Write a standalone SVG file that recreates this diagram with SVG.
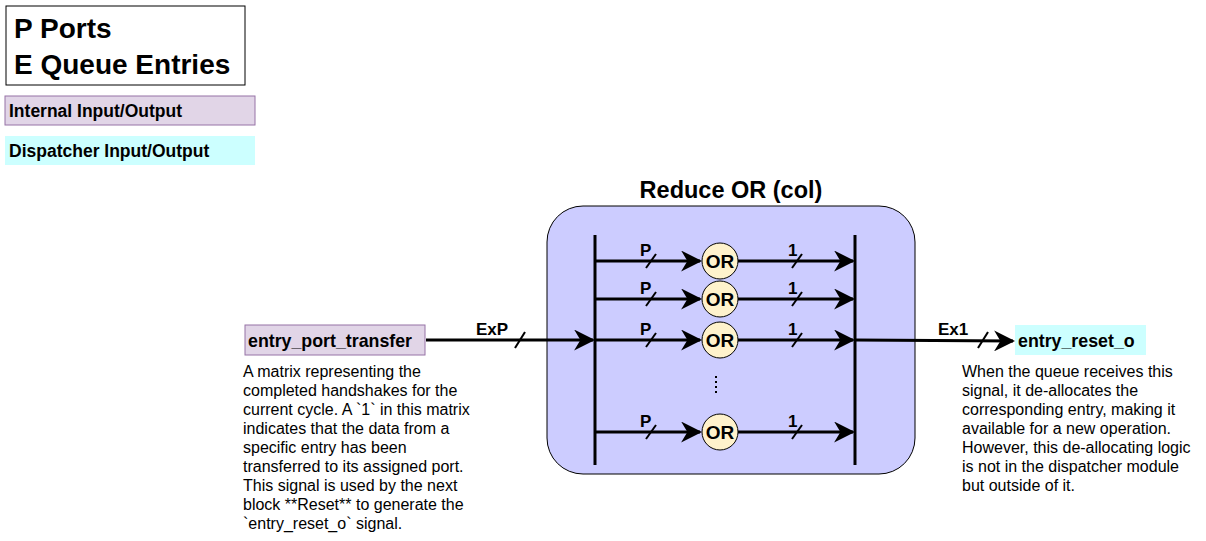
<svg xmlns="http://www.w3.org/2000/svg" width="1206" height="541" viewBox="0 0 1206 541">
<style>
text{font-family:"Liberation Sans",Arial,sans-serif;fill:#000}
.b{font-weight:bold}
.w{stroke:#000;stroke-width:3;fill:none}
.t{stroke:#000;stroke-width:2}
.d{font-size:16px}
</style>
<defs>
<marker id="m" viewBox="0 0 10 10" refX="9" refY="5" markerWidth="7" markerHeight="7" orient="auto" markerUnits="strokeWidth"><path d="M0,0 L10,5 L0,10 L3,5 Z" fill="#000"/></marker></defs>
<g id="legend">
<rect x="6" y="6" width="239" height="79" fill="#fff" stroke="#000"/>
<text x="14" y="38" font-size="28" class="b">P Ports</text>
<text x="14" y="74" font-size="28" class="b">E Queue Entries</text>
<rect x="5" y="96" width="250" height="29" fill="#e1d5e7" stroke="#9673a6"/>
<text x="9" y="117" font-size="17.5" class="b">Internal Input/Output</text>
<rect x="5" y="136" width="250" height="29" fill="#ccffff"/>
<text x="9" y="157" font-size="17.5" class="b">Dispatcher Input/Output</text>
</g>
<g id="reduce">
<rect x="547" y="206" width="368" height="268" rx="36" fill="#ccccff" stroke="#000"/>
<text x="731" y="198" font-size="23.5" class="b" text-anchor="middle">Reduce OR (col)</text>
<line x1="595" y1="235" x2="595" y2="465" class="w"/>
<line x1="855" y1="235" x2="855" y2="465" class="w"/>
<line x1="716" y1="376" x2="716" y2="396" stroke="#000" stroke-width="2" stroke-dasharray="2 3"/>
</g>
<g id="connectors">
<g id="rows">
<g transform="translate(0,261)"><line x1="595" y1="0" x2="700" y2="0" class="w" marker-end="url(#m)"/><line x1="738" y1="0" x2="853" y2="0" class="w" marker-end="url(#m)"/><line x1="646" y1="7" x2="656" y2="-7" class="t"/><line x1="792" y1="7" x2="802" y2="-7" class="t"/><text x="640" y="-5" font-size="17" class="b">P</text><text x="788" y="-5" font-size="17" class="b">1</text></g>
<g transform="translate(0,299)"><line x1="595" y1="0" x2="700" y2="0" class="w" marker-end="url(#m)"/><line x1="738" y1="0" x2="853" y2="0" class="w" marker-end="url(#m)"/><line x1="646" y1="7" x2="656" y2="-7" class="t"/><line x1="792" y1="7" x2="802" y2="-7" class="t"/><text x="640" y="-5" font-size="17" class="b">P</text><text x="788" y="-5" font-size="17" class="b">1</text></g>
<g transform="translate(0,340)"><line x1="595" y1="0" x2="700" y2="0" class="w" marker-end="url(#m)"/><line x1="738" y1="0" x2="853" y2="0" class="w" marker-end="url(#m)"/><line x1="646" y1="7" x2="656" y2="-7" class="t"/><line x1="792" y1="7" x2="802" y2="-7" class="t"/><text x="640" y="-5" font-size="17" class="b">P</text><text x="788" y="-5" font-size="17" class="b">1</text></g>
<g transform="translate(0,432)"><line x1="595" y1="0" x2="700" y2="0" class="w" marker-end="url(#m)"/><line x1="738" y1="0" x2="853" y2="0" class="w" marker-end="url(#m)"/><line x1="646" y1="7" x2="656" y2="-7" class="t"/><line x1="792" y1="7" x2="802" y2="-7" class="t"/><text x="640" y="-5" font-size="17" class="b">P</text><text x="788" y="-5" font-size="17" class="b">1</text></g>
</g>
<line x1="426" y1="340" x2="593" y2="340" class="w" marker-end="url(#m)"/>
<line x1="515" y1="348" x2="525" y2="332" class="t"/>
<text x="476" y="335" font-size="17" class="b">ExP</text>
<line x1="855" y1="340" x2="1013" y2="341" class="w" marker-end="url(#m)"/>
<line x1="978" y1="348" x2="988" y2="332" class="t"/>
<text x="938" y="335" font-size="17" class="b">Ex1</text>
</g>
<g id="or-gates">
<g id="or1"><circle cx="720" cy="261" r="18" fill="#fff2cc" stroke="#000"/><text x="720" y="268" text-anchor="middle" class="b" font-size="19">OR</text></g>
<g id="or2"><circle cx="720" cy="299" r="18" fill="#fff2cc" stroke="#000"/><text x="720" y="306" text-anchor="middle" class="b" font-size="19">OR</text></g>
<g id="or3"><circle cx="720" cy="340" r="18" fill="#fff2cc" stroke="#000"/><text x="720" y="347" text-anchor="middle" class="b" font-size="19">OR</text></g>
<g id="or4"><circle cx="720" cy="432" r="18" fill="#fff2cc" stroke="#000"/><text x="720" y="439" text-anchor="middle" class="b" font-size="19">OR</text></g>
</g>
<g id="input">
<rect x="245" y="325" width="180" height="30" fill="#e1d5e7" stroke="#9673a6"/>
<text x="248" y="347" font-size="17.8" class="b">entry_port_transfer</text>
<text class="d"><tspan x="243" y="377">A matrix representing the</tspan><tspan x="243" y="396">completed handshakes for the</tspan><tspan x="243" y="415">current cycle. A `1` in this matrix</tspan><tspan x="243" y="434">indicates that the data from a</tspan><tspan x="243" y="453">specific entry has been</tspan><tspan x="243" y="472">transferred to its assigned port.</tspan><tspan x="243" y="491">This signal is used by the next</tspan><tspan x="243" y="510">block **Reset** to generate the</tspan><tspan x="243" y="529">`entry_reset_o` signal.</tspan></text>
</g>
<g id="output">
<rect x="1015" y="325" width="131" height="30" fill="#ccffff"/>
<text x="1018" y="347" font-size="17.8" class="b">entry_reset_o</text>
<text class="d"><tspan x="962" y="377">When the queue receives this</tspan><tspan x="962" y="396">signal, it de-allocates the</tspan><tspan x="962" y="415">corresponding entry, making it</tspan><tspan x="962" y="434">available for a new operation.</tspan><tspan x="962" y="453">However, this de-allocating logic</tspan><tspan x="962" y="472">is not in the dispatcher module</tspan><tspan x="962" y="491">but outside of it.</tspan></text>
</g>
</svg>
